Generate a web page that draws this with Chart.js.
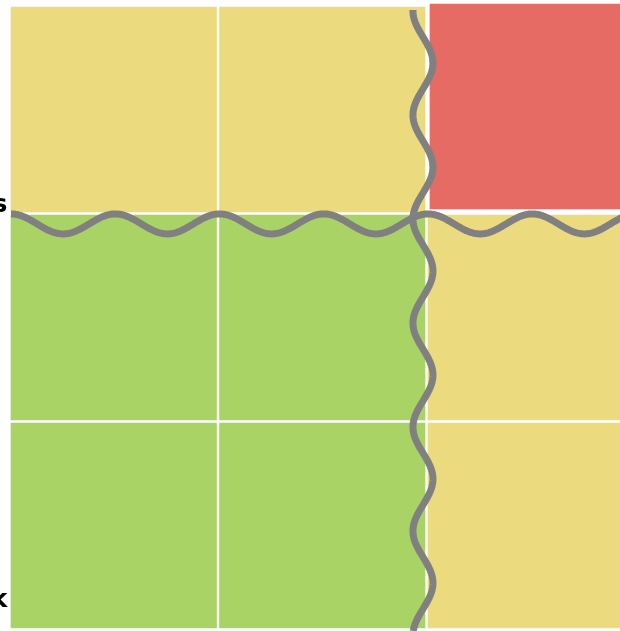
<!DOCTYPE html>
<html>
<head>
<meta charset="utf-8">
<script src="https://cdn.jsdelivr.net/npm/chart.js@4"></script>
<style>
  html, body { margin: 0; padding: 0; background: #fff; overflow: hidden; }
  #wrap { position: relative; width: 650px; height: 631px; }
</style>
</head>
<body>
<div id="wrap"><canvas id="matrix" width="650" height="631"></canvas></div>
<script>
const columns = ['Low', 'Medium', 'High'];
// risk level of each cell, rows listed bottom to top (null = no cell)
const rowLow = [0, 0, 1];
const rowMid = [0, 0, 1];
const rowHigh = [1, 1, null];
const highlightRow = [null, null, 2];
const levelColors = ['#a9d465', '#ecdb7e', '#e66b64'];
const sideLabels = ['Threats', 'Weak'];
const thresholdX = 1.983;   // in column units from left edge
const thresholdY = 1.95;    // in row units from bottom

function rowDataset(levels) {
    return {
        data: levels.map(v => v === null ? null : 1),
        backgroundColor: levels.map(v => v === null ? 'rgba(0,0,0,0)' : levelColors[v]),
        borderColor: '#ffffff',
        borderWidth: 1.5,
        borderSkipped: false,
        barPercentage: 1,
        categoryPercentage: 1
    };
}

const wavePlugin = {
    id: 'waves',
    beforeDatasetDraw(chart, args) {
        // highlighted cell pops out a little
        if (args.index === 3) {
            chart.ctx.save();
            chart.ctx.translate(2, -3);
        }
    },
    afterDatasetDraw(chart, args) {
        if (args.index === 3) chart.ctx.restore();
    },
    afterDatasetsDraw(chart) {
        const { ctx, chartArea, scales: { x, y } } = chart;
        const amp = 10;
        ctx.save();
        ctx.strokeStyle = '#808080';
        ctx.lineWidth = 7;
        ctx.lineJoin = 'round';

        // horizontal threshold
        const py = y.getPixelForValue(thresholdY);
        const periodX = (x.getPixelForValue(1) - x.getPixelForValue(0)) / 2;
        const x0 = chartArea.left + 1.5;
        ctx.beginPath();
        for (let px = x0; px <= chartArea.right; px += 1) {
            const yy = py - amp * Math.cos(2 * Math.PI * (px - x0) / periodX);
            if (px === x0) ctx.moveTo(px, yy); else ctx.lineTo(px, yy);
        }
        ctx.stroke();

        // vertical threshold (category scale centres sit at index, edges at index - 0.5)
        const pxv = x.getPixelForValue(thresholdX - 0.5);
        const periodY = (y.getPixelForValue(0) - y.getPixelForValue(1)) / 2;
        const y0 = chartArea.top + 4.5;
        ctx.beginPath();
        for (let yy = y0; yy <= chartArea.bottom + 2; yy += 1) {
            const xx = pxv - amp * Math.cos(2 * Math.PI * (yy - y0 - 1) / periodY);
            if (yy === y0) ctx.moveTo(xx, yy); else ctx.lineTo(xx, yy);
        }
        ctx.stroke();

        // side labels (mostly cut off by the left edge)
        ctx.fillStyle = '#000';
        ctx.font = 'bold 25px "DejaVu Sans", sans-serif';
        ctx.textAlign = 'right';
        ctx.textBaseline = 'alphabetic';
        ctx.fillText(sideLabels[0], chartArea.left - 2, y.getPixelForValue(2.006));
        ctx.fillText(sideLabels[1], chartArea.left - 2, y.getPixelForValue(0.11));
        ctx.restore();
    }
};

new Chart(document.getElementById('matrix'), {
    type: 'bar',
    data: {
        labels: columns,
        datasets: [
            rowDataset(rowLow),
            rowDataset(rowMid),
            rowDataset(rowHigh),
            rowDataset(highlightRow)
        ]
    },
    options: {
        responsive: false,
        animation: false,
        devicePixelRatio: 1,
        layout: { padding: { left: 9.5, top: 5.5, right: 15, bottom: 1.5 } },
        plugins: { legend: { display: false }, tooltip: { enabled: false } },
        scales: {
            x: { stacked: true, display: false },
            y: { stacked: true, display: false, min: 0, max: 3 }
        }
    },
    plugins: [wavePlugin]
});
</script>
</body>
</html>
